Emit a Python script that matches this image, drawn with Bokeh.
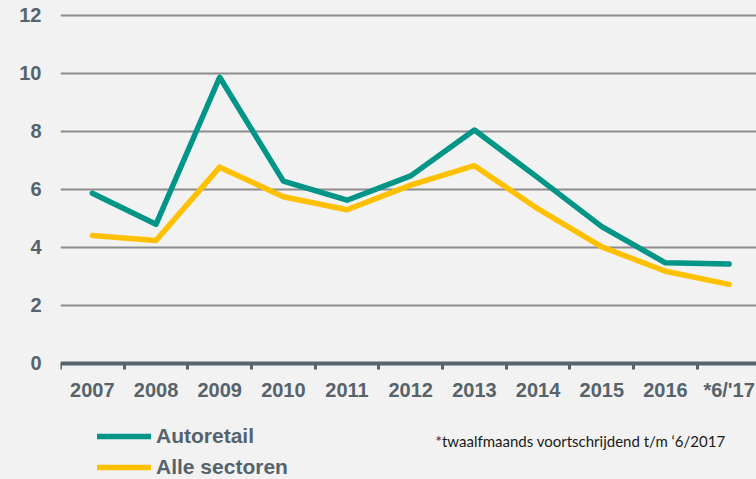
from bokeh.plotting import figure
from bokeh.models import (FixedTicker, Range1d, Legend, LegendItem, Label,
                          GlobalInlineStyleSheet)
from bokeh.embed import file_html
from bokeh.resources import INLINE

categories = ["2007", "2008", "2009", "2010", "2011", "2012", "2013",
              "2014", "2015", "2016", "*6/'17"]
autoretail = [5.87, 4.8, 9.87, 6.29, 5.63, 6.47, 8.05, 6.4, 4.72, 3.47, 3.43]
alle_sectoren = [4.41, 4.24, 6.77, 5.75, 5.3, 6.15, 6.82, 5.33, 4.02, 3.18, 2.73]
y_ticks = [0, 2, 4, 6, 8, 10, 12]
footnote = "*twaalfmaands voortschrijdend t/m \u20186/2017"

BG = "#f2f2f2"
TXT = "#56636b"
TEAL = "#009587"
YELLOW = "#ffc000"
FONT = "Liberation Sans"

xs = [i + 0.5 for i in range(len(categories))]

p = figure(width=756, height=479, output_backend="svg", toolbar_location=None,
           x_range=Range1d(0, 10.93), y_range=Range1d(-4.0, 12.517),
           min_border_left=60, min_border_right=0, min_border_top=0,
           min_border_bottom=0)
p.stylesheets = [GlobalInlineStyleSheet(css="body{background:%s;}" % BG)]
p.background_fill_color = BG
p.border_fill_color = BG
p.outline_line_color = None

r1 = p.line(xs, autoretail, line_color=TEAL, line_width=5.5, line_join="round",
            line_cap="round")
r2 = p.line(xs, alle_sectoren, line_color=YELLOW, line_width=5.5, line_join="round",
            line_cap="round")

# x axis, drawn at y = 0 inside the frame
xa = p.xaxis[0]
xa.fixed_location = 0
xa.ticker = FixedTicker(ticks=xs, minor_ticks=list(range(len(categories) + 1)))
xa.major_label_overrides = {x: c for x, c in zip(xs, categories)}
xa.major_tick_line_color = None
xa.major_tick_out = 0
xa.major_tick_in = 0
xa.minor_tick_out = 6
xa.minor_tick_in = 0
xa.minor_tick_line_width = 3
xa.minor_tick_line_color = TXT
xa.axis_line_color = TXT
xa.axis_line_width = 4
xa.major_label_standoff = 10
xa.major_label_text_font = FONT
xa.major_label_text_font_style = "bold"
xa.major_label_text_font_size = "20px"
xa.major_label_text_color = TXT

# y axis
ya = p.yaxis[0]
ya.ticker = FixedTicker(ticks=y_ticks)
ya.axis_line_color = None
ya.major_tick_line_color = None
ya.minor_tick_line_color = None
ya.major_tick_out = 0
ya.major_tick_in = 0
ya.major_label_standoff = 19
ya.major_label_text_font = FONT
ya.major_label_text_font_style = "bold"
ya.major_label_text_font_size = "20px"
ya.major_label_text_color = TXT

p.xgrid.grid_line_color = None
p.ygrid.ticker = FixedTicker(ticks=y_ticks)
p.ygrid.grid_line_color = "#8c8c8c"
p.ygrid.grid_line_width = 2

legend = Legend(items=[LegendItem(label="Autoretail", renderers=[r1]),
                       LegendItem(label="Alle sectoren", renderers=[r2])],
                location=(37, 0), orientation="vertical",
                margin=0, padding=0, spacing=7,
                glyph_width=54, glyph_height=20, label_height=20,
                label_standoff=5,
                label_text_font=FONT, label_text_font_style="bold",
                label_text_font_size="21px", label_text_color=TXT,
                background_fill_alpha=0, border_line_alpha=0)
p.add_layout(legend)

p.add_layout(Label(x=520, y=39, x_units="screen", y_units="screen",
                   text=footnote, text_font="Lato", text_font_size="15px",
                   text_color="#1a1a1a", text_align="center",
                   text_baseline="middle"))

open("out.html", "w").write(file_html(p, INLINE))
